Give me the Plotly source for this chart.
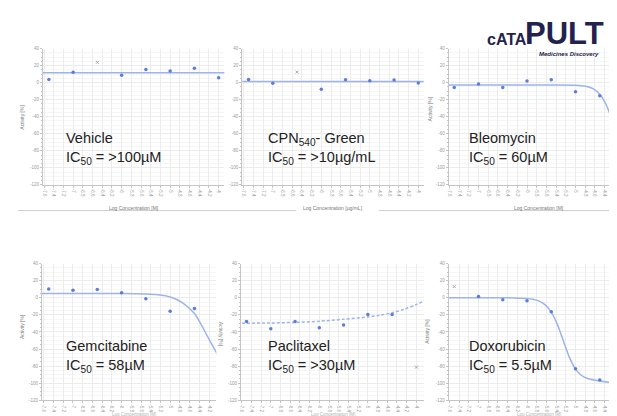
import plotly.graph_objects as go

W, H = 617, 416

# ---------------- data ----------------
veh_x = [-7.5, -7, -6, -5.5, -5, -4.5, -4]
veh_y = [3.8, 12.3, 8.5, 15.4, 13.5, 16.9, 5.8]
veh_ex_x = [-6.5]
veh_ex_y = [23.8]
veh_fit_x = [-7.7, -3.8]
veh_fit_y = [11.5, 11.5]

cpn_x = [-7.5, -7, -6, -5.5, -5, -4.5, -4]
cpn_y = [3.8, -0.8, -7.7, 3.5, 2.3, 3.1, -0.4]
cpn_ex_x = [-6.5]
cpn_ex_y = [12.3]
cpn_fit_x = [-7.7, -3.8]
cpn_fit_y = [1.2, 1.2]

bleo_x = [-7.5, -7, -6.5, -6, -5.5, -5, -4.5, -4]
bleo_y = [-5.8, -1.5, -5.8, 1.9, 3.5, -10.8, -15.4, -80]
bleo_fit_x = [-7.65, -6.0, -5.5, -5.0, -4.75, -4.625, -4.5, -4.375, -4.25, -4.125, -3.95]
bleo_fit_y = [-2.7, -2.7, -2.7, -3.1, -4.8, -7.6, -13.6, -25.1, -43.1, -63.7, -84.0]

gem_x = [-7.5, -7, -6.5, -6, -5.5, -5, -4.5]
gem_y = [10.4, 8.8, 9.6, 5.8, -1.2, -15.8, -12.7]
gem_fit_x = [-7.7, -6.0, -5.5, -5.25, -5.0, -4.75, -4.5, -4.375, -4.25, -4.125, -4.0]
gem_fit_y = [5.0, 5.0, 4.4, 3.5, 0.9, -5.6, -18.5, -30.0, -43.3, -56.4, -69.0]

pac_x = [-7.5, -7, -6.5, -6, -5.5, -5, -4.5]
pac_y = [-27.7, -36.2, -27.7, -35.0, -32.0, -19.6, -19.6]
pac_ex_x = [-4]
pac_ex_y = [-81.2]
pac_fit_x = [-7.7, -7.0, -6.5, -6.0, -5.5, -5.0, -4.75, -4.5, -4.25, -4.0, -3.8]
pac_fit_y = [-29.8, -29.5, -28.8, -27.5, -25.2, -22.5, -20.3, -17.6, -13.4, -7.8, -2.5]

dox_x = [-7, -6.5, -6, -5.5, -5, -4.5, -4]
dox_y = [1.5, -2.3, -3.5, -16.5, -83.0, -96.2, -100.4]
dox_ex_x = [-7.5]
dox_ex_y = [13.1]
dox_fit_x = [-7.65, -6.5, -6.25, -6.0, -5.875, -5.75, -5.625, -5.5, -5.375, -5.25,
             -5.125, -5.0, -4.875, -4.75, -4.5, -4.25, -3.95]
dox_fit_y = [0, 0, -0.2, -0.8, -1.8, -3.9, -8.3, -16.8, -31.2, -50.5,
             -69.8, -83.5, -91.0, -94.5, -97.5, -99.3, -100.6]

x_ticks = [-7.6, -7.4, -7.2, -7.0, -6.8, -6.6, -6.4, -6.2, -6.0, -5.8, -5.6, -5.4,
           -5.2, -5.0, -4.8, -4.6, -4.4, -4.2, -4.0]
y_ticks = [40, 20, 0, -20, -40, -60, -80, -100, -120]

titles = ["Vehicle<br>IC<sub>50</sub> = >100µM",
          "CPN<sub>540</sub>- Green<br>IC<sub>50</sub> = >10µg/mL",
          "Bleomycin<br>IC<sub>50</sub> = 60µM",
          "Gemcitabine<br>IC<sub>50</sub> = 58µM",
          "Paclitaxel<br>IC<sub>50</sub> = >30µM",
          "Doxorubicin<br>IC<sub>50</sub> = 5.5µM"]
x_titles = ["Log Concentration [M]", "Log Concentration [µg/mL]", "Log Concentration [M]"]
y_title = "Activity [%]"

# ---------------- layout helpers ----------------
def fx(p):
    return p / W

def fy(p):
    return 1 - p / H

# (left px, right px, top px, bottom px, x range)
panels = [
    (33, 215, 39, 177, [-7.623, -3.884]),
    (233, 415, 39, 177, [-7.63, -3.89]),
    (440, 617, 39, 177, [-7.617, -3.98]),
    (32, 207, 256.7, 395, [-7.64, -4.05]),
    (231.7, 415, 256.7, 395, [-7.615, -3.85]),
    (440, 617, 256.7, 395, [-7.617, -3.98]),
]

series = [
    (veh_x, veh_y, veh_ex_x, veh_ex_y, veh_fit_x, veh_fit_y, "solid"),
    (cpn_x, cpn_y, cpn_ex_x, cpn_ex_y, cpn_fit_x, cpn_fit_y, "solid"),
    (bleo_x, bleo_y, [], [], bleo_fit_x, bleo_fit_y, "solid"),
    (gem_x, gem_y, [], [], gem_fit_x, gem_fit_y, "solid"),
    (pac_x, pac_y, pac_ex_x, pac_ex_y, pac_fit_x, pac_fit_y, "3px,2px"),
    (dox_x, dox_y, dox_ex_x, dox_ex_y, dox_fit_x, dox_fit_y, "solid"),
]

LINE = "#9cb3ec"
PT = "#5a7ddc"
GRID = "#ececec"
AX = "#c4c4c4"
TK = "#9a9a9a"

def fmt(v):
    s = f"{v:.1f}"
    return s[:-2] if s.endswith(".0") else s

fig = go.Figure()
layout = {}
for i, ((l, r, t, b, xr), (px_, py_, ex_x, ex_y, fit_x, fit_y, dash)) in enumerate(zip(panels, series)):
    n = "" if i == 0 else str(i + 1)
    xa, ya = "x" + n, "y" + n
    layout["xaxis" + n] = dict(
        domain=[fx(l), fx(r)], range=xr, anchor=ya,
        tickvals=x_ticks, ticktext=[fmt(v) for v in x_ticks], tickangle=90,
        tickfont=dict(size=4.5, color=TK, family="Liberation Sans"),
        showgrid=True, gridcolor=GRID, gridwidth=1,
        showline=True, linecolor=AX, linewidth=1,
        ticks="outside", ticklen=2, tickcolor=AX, zeroline=False, fixedrange=True,
    )
    layout["yaxis" + n] = dict(
        domain=[fy(b), fy(t)], range=[-120, 40], anchor=xa,
        tickvals=y_ticks, ticktext=[str(v) for v in y_ticks],
        tickfont=dict(size=4.5, color=TK, family="Liberation Sans"),
        showgrid=True, gridcolor=GRID, gridwidth=1,
        minor=dict(dtick=5, showgrid=True, gridcolor="#f6f6f6", ticks="outside",
                   ticklen=1, tickcolor=AX),
        showline=True, linecolor=AX, linewidth=1,
        ticks="outside", ticklen=2, tickcolor=AX, zeroline=False, fixedrange=True,
    )
    fig.add_trace(go.Scatter(x=fit_x, y=fit_y, xaxis=xa, yaxis=ya, mode="lines",
                             line=dict(color=LINE, width=1.5, dash=dash, shape="spline", smoothing=0.8),
                             hoverinfo="skip", showlegend=False))
    fig.add_trace(go.Scatter(x=px_, y=py_, xaxis=xa, yaxis=ya, mode="markers",
                             marker=dict(color=PT, size=3.5, symbol="circle"),
                             showlegend=False, cliponaxis=False))
    if ex_x:
        fig.add_trace(go.Scatter(x=ex_x, y=ex_y, xaxis=xa, yaxis=ya, mode="markers",
                                 marker=dict(color="#a8a8a8", size=3, symbol="x-thin",
                                             line=dict(color="#a8a8a8", width=1)),
                                 showlegend=False))

annotations = []
# panel labels
label_pos = [(54, 119), (256.5, 119), (458, 119), (54, 330), (256.5, 330), (458, 330)]
for (x0, y0), txt in zip(label_pos, titles):
    annotations.append(dict(x=fx(x0), y=fy(y0), xref="paper", yref="paper",
                            xanchor="left", yanchor="top", align="left", showarrow=False,
                            text=txt, font=dict(size=14.5, color="#222222", family="Liberation Sans")))

# x axis titles (top row)
for xc, txt in zip([124, 324, 531], x_titles):
    annotations.append(dict(x=fx(xc), y=fy(200), xref="paper", yref="paper",
                            xanchor="center", yanchor="middle", showarrow=False,
                            text=txt, font=dict(size=5, color="#777777", family="Liberation Sans")))
# x titles of the bottom row, at the lower edge
for xc in [124, 324, 531]:
    annotations.append(dict(x=fx(xc), y=fy(409.5), xref="paper", yref="paper",
                            xanchor="center", yanchor="middle", showarrow=False,
                            text=x_titles[0], font=dict(size=4.5, color="#b0b0b0", family="Liberation Sans")))

# y axis titles
for xc, yc, ang in [(12, 108, -90), (421, 100, -90), (12, 320, -90), (212, 328, 90), (418, 325, -90)]:
    annotations.append(dict(x=fx(xc), y=fy(yc), xref="paper", yref="paper",
                            xanchor="center", yanchor="middle", showarrow=False, textangle=ang,
                            text=y_title, font=dict(size=5, color="#777777", family="Liberation Sans")))

# logo
NAVY = "#23224f"
annotations.append(dict(x=fx(515), y=fy(44), xref="paper", yref="paper", xanchor="left", yanchor="bottom",
                        showarrow=False, text="<b>PULT</b>",
                        font=dict(size=31, color=NAVY, family="Liberation Sans")))
annotations.append(dict(x=fx(521), y=fy(40.5), xref="paper", yref="paper", xanchor="right", yanchor="bottom",
                        showarrow=False, text="<b>cATA</b>",
                        font=dict(size=16, color=NAVY, family="Liberation Sans")))
annotations.append(dict(x=fx(593), y=fy(45), xref="paper", yref="paper", xanchor="right", yanchor="middle",
                        showarrow=False, text="<b><i>Medicines Discovery</i></b>",
                        font=dict(size=6, color=NAVY, family="Liberation Sans")))

shapes = [
    dict(type="line", xref="paper", yref="paper", x0=fx(8), x1=fx(287), y0=fy(203), y1=fy(203),
         line=dict(color="#cfcfcf", width=1)),
    dict(type="line", xref="paper", yref="paper", x0=fx(370), x1=fx(617), y0=fy(203), y1=fy(203),
         line=dict(color="#cfcfcf", width=1)),
]

fig.update_layout(
    width=W, height=H, margin=dict(l=0, r=0, t=0, b=0),
    paper_bgcolor="white", plot_bgcolor="white",
    annotations=annotations, shapes=shapes, showlegend=False,
    font=dict(family="Liberation Sans"),
    **layout,
)

fig.write_html("out.html", config={"displayModeBar": False})
